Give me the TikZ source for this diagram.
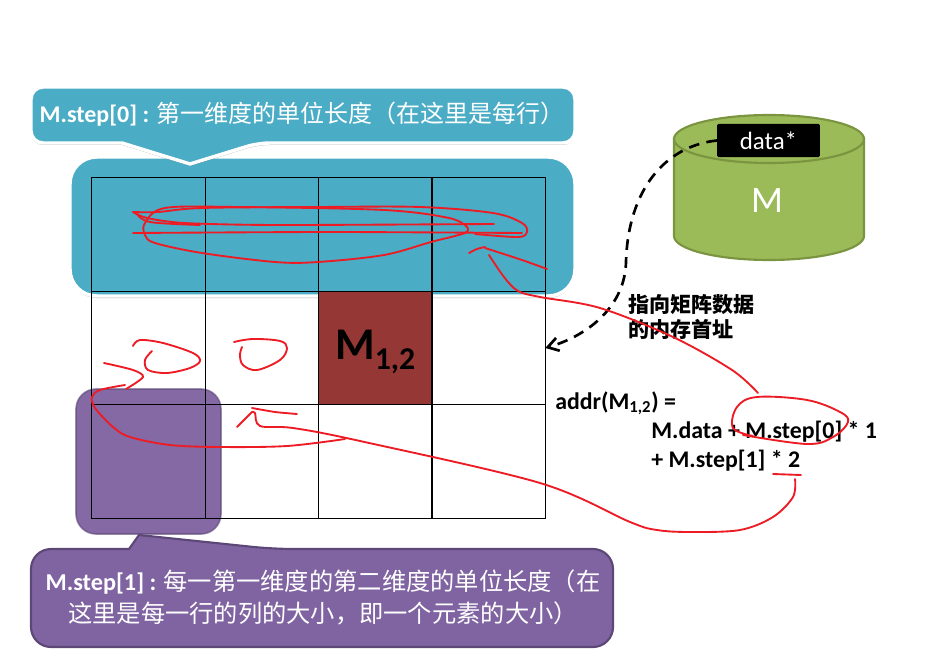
\documentclass[tikz,border=0pt]{standalone}
\usepackage{fontspec}
\setmainfont{Carlito}
\newfontfamily\cjk{Noto Sans CJK SC}
\usetikzlibrary{shapes}
\usetikzlibrary{shadows}
\usetikzlibrary{arrows.meta}
\definecolor{myblue}{HTML}{4BACC6}
\definecolor{mypurple}{HTML}{8064A2}
\definecolor{mypurpled}{HTML}{5C4776}
\definecolor{mygreen}{HTML}{9BBB59}
\definecolor{mygreend}{HTML}{7A9440}
\definecolor{myred}{HTML}{953735}
\definecolor{myink}{HTML}{ED1C24}
\tikzset{
    cell/.style = {rectangle, draw=black, line width=0.6pt, inner sep=0pt, outer sep=0pt, minimum width=85.1pt, minimum height=85.1pt},
    cellr/.style = {cell, fill=myred},
    bluebox/.style = {draw=white, line width=2.6pt, fill=myblue, drop shadow={shadow xshift=0pt, shadow yshift=-1.5pt, opacity=.3, fill=black}},
    purplebox/.style = {draw=mypurpled, line width=1.6pt, fill=mypurple},
    purplesq/.style = {draw=mypurpled, line width=1.2pt, draw opacity=.6, fill=mypurple, fill opacity=.97},
    tip/.style = {inner sep=0pt, align=center, text=white, font=\fontsize{18.2}{24}\selectfont},
    formula/.style = {inner sep=0pt, anchor=west, font=\fontsize{17.9}{20}\selectfont\bfseries},
    mydata/.style = {rectangle, rounded corners=1pt, fill=black, text=white, inner sep=0pt, minimum width=77pt, minimum height=25pt, font=\fontsize{18.7}{20}\selectfont},
    mydisk/.style = {draw=mygreend, line width=1.6pt, fill=mygreen},
    edged/.style = {-{Straight Barb[length=8pt,width=10pt]},line width=2pt,black,dash pattern=on 8pt off 5.5pt},
    edger/.style = {myink,line width=1.4pt,line cap=round,line join=round}
}
\begin{document}
\begin{tikzpicture}[x=0.75pt,y=-0.75pt]
\useasboundingbox (0,0) rectangle (948,659);
%
\draw[bluebox,rounded corners=20pt] (70,157) rectangle (575,296);
\draw[purplesq,rounded corners=15pt] (76,389) rectangle (221,534);
%
\node[cell] at (148.5, 234.5) (c00) {};
\node[cell] at (262, 234.5) (c01) {};
\node[cell] at (375.5, 234.5) (c02) {};
\node[cell] at (488.5, 234.5) (c03) {};
\node[cell] at (148.5, 348) (c10) {};
\node[cell] at (262, 348) (c11) {};
\node[cellr] at (375.5, 348) (c12) {};
\node[cell] at (488.5, 348) (c13) {};
\node[cell] at (148.5, 461.5) (c20) {};
\node[cell] at (262, 461.5) (c21) {};
\node[cell] at (375.5, 461.5) (c22) {};
\node[cell] at (488.5, 461.5) (c23) {};
\node[inner sep=0pt,font=\fontsize{34}{40}\selectfont\bfseries] at (375.5, 352) (m12) {M\textsubscript{1,2}};
%
\draw[bluebox,rounded corners=9pt] (122,143) -- (31,143) -- (31,87) -- (575,87) -- (575,143) -- (258,143)
    [sharp corners] -- (190,164) -- cycle;
\node[tip,font=\fontsize{18}{24}\selectfont] at (302, 114) (tip0) {\textbf{M.step[0] :} {\cjk 第一维度的单位长度（在这里是每行）}};
%
\draw[purplebox,rounded corners=15pt] (129,549) -- (31,549) -- (31,647) -- (613,647) -- (613,549) -- (273,549)
    [sharp corners] -- (139,535) -- cycle;
\node[tip] at (323, 597) (tip1) {\textbf{M.step[1] :} {\cjk 每一第一维度的第二维度的单位长度（在}\\{\cjk 这里是每一行的列的大小，即一个元素的大小）}};
%
\draw[mydisk] (674,139) -- (674,236) arc[start angle=180,end angle=0,x radius=95,y radius=24] -- (864,139) -- cycle;
\draw[mydisk] (769,139) ellipse [x radius=95,y radius=24];
\node[text=white,inner sep=0pt,font=\fontsize{28}{32}\selectfont] at (767, 201) (mm) {M};
\node[mydata] at (768.5, 140.5) (data) {data*};
%
\coordinate (bend) at (626, 262);
\draw[edged] (data.west) .. controls (665,146) and (628,190) .. (bend) .. controls (625,305) and (590,335) .. (c13.east);
\node[inner sep=0pt,align=left,anchor=north west,font=\fontsize{15.8}{18.7}\selectfont\cjk\bfseries] at (628, 294) (note) {指向矩阵数据\\的内存首址};
%
\node[formula] at (555, 403) (f0) {addr(M\textsubscript{1,2}) =};
\node[formula] at (651, 432) (f1) {M.data + M.step[0] * 1};
\node[formula] at (651, 461) (f2) {+ M.step[1] * 2};
%
\draw[edger] plot[smooth,tension=.45] coordinates {(522,233) (330,232) (133,233)};
\draw[edger] plot[smooth,tension=.45] coordinates {(494,224) (275,225) (184,223) (147,218) (133,212)};
\draw[edger] plot[smooth,tension=.55] coordinates {(133,212) (158,212) (202,208) (318,207) (420,207) (493,213) (522,223) (527,232) (518,237) (475,234)};
\draw[edger] plot[smooth,tension=.55] coordinates {(136,213) (150,222) (200,225)};
\draw[edger] plot[smooth,tension=.55] coordinates {(467,227) (449,218) (384,210) (238,207) (165,208) (145,223) (145,235) (155,243) (202,253) (275,262) (318,262) (384,255) (431,242) (465,233) (467,227)};
\draw[edger] plot[smooth,tension=.5] coordinates {(469,253) (477,249) (485,247)};
\draw[edger] plot[smooth,tension=.5] coordinates {(485,248) (522,260) (547,269)};
\draw[edger] plot[smooth,tension=.55] coordinates {(489,255) (504,277) (518,291) (540,297) (600,308) (673,337) (732,370) (758,393)};
\draw[edger] plot[smooth,tension=.6] coordinates {(753,436) (733,428) (737,407) (757,397) (807,400) (840,412) (848,422) (833,437) (807,444) (743,435)};
\draw[edger] (773,474) -- (801,475);
\draw[edger] plot[smooth,tension=.55] coordinates {(795,479) (793,497) (773,517) (740,530) (690,532) (657,530) (630,522) (540,483) (360,441) (293,428) (260,426) (255,413) (252,412)};
\draw[edger] (252,412) -- (237,427);
\draw[edger] plot[smooth,tension=.4] coordinates {(252,408) (275,412) (297,414)};
\draw[edger] plot[smooth,tension=.55] coordinates {(345,439) (287,446) (220,447) (170,445) (130,437) (113,427) (95,408) (92,397) (100,390) (125,385)};
\draw[edger] plot[smooth,tension=.5] coordinates {(104,363) (133,370) (143,377) (126,389)};
\draw[edger] plot[smooth,tension=.55] coordinates {(133,346) (140,340) (163,343) (193,353) (200,361) (190,368) (167,373) (148,370) (145,360) (152,351)};
\draw[edger] plot[smooth,tension=.6] coordinates {(234,342) (253,339) (280,341) (287,348) (280,360) (257,370) (243,365) (240,355) (242,347)};
\end{tikzpicture}
\end{document}
